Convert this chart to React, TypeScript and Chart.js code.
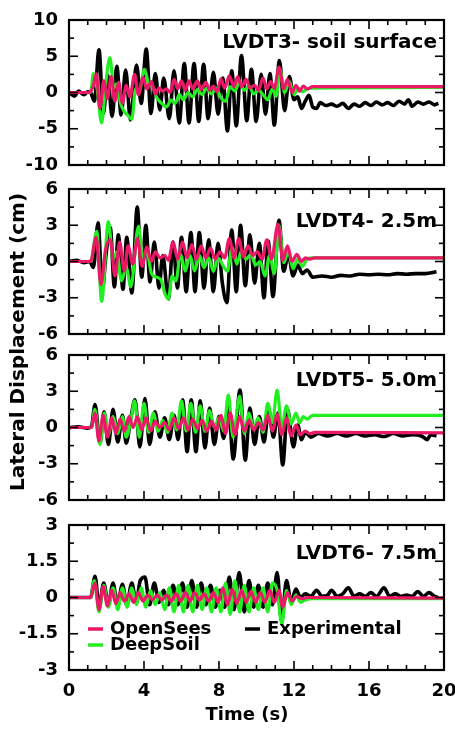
import React, { useEffect, useRef } from "react";
import { Chart, registerables } from "chart.js";

Chart.register(...registerables);

// ---------------- DATA: [time (s), lateral displacement (cm)] ----------------
// Panel 1 : LVDT3 - soil surface
const LVDT3_OPENSEES: [number, number][] = [
  [0, 0], [1.1, 0], [1.3, 1.0], [1.45, 2.6], [1.65, -2.2], [1.85, 1.6], [2.05, -0.8], [2.25, 2.2],
  [2.45, -1.2], [2.65, 1.4], [2.85, -1.5], [3.05, 1.0], [3.25, -0.6], [3.5, 2.5], [3.7, -0.3], [3.95, 2.1],
  [4.15, 0.5], [4.4, 1.5], [4.6, -0.2], [4.8, 0.6], [5.0, 0.2], [5.2, 0.5], [5.4, 0.0], [5.6, 1.8],
  [5.8, 0.5], [6.0, 1.6], [6.2, 0.3], [6.4, 1.6], [6.6, 0.5], [6.85, 1.6], [7.05, 0.4], [7.3, 1.4],
  [7.5, 0.3], [7.7, 0.9], [7.9, 0.1], [8.1, 1.9], [8.3, 0.6], [8.55, 2.3], [8.8, 0.8], [9.0, 2.2],
  [9.2, 0.8], [9.45, 1.8], [9.65, 0.6], [9.9, 1.0], [10.1, 0.3], [10.35, 2.0], [10.55, 0.5], [10.75, 1.5],
  [10.95, 0.6], [11.2, 3.5], [11.45, 0.5], [11.65, 1.8], [11.9, 0.0], [12.1, 1.0], [12.3, 0.2], [12.5, 0.9],
  [12.7, 0.5], [13.0, 0.8], [20, 0.8],
];
const LVDT3_DEEPSOIL: [number, number][] = [
  [0, 0], [1.15, 0], [1.3, 2.6], [1.5, 0.5], [1.74, -4.2], [1.95, 1.0], [2.18, 4.8], [2.4, 0.6],
  [2.55, 1.2], [2.75, -1.5], [2.95, -2.6], [3.15, -3.2], [3.35, -3.7], [3.55, 0.5], [3.75, 0.2], [4.02, 3.2],
  [4.25, 1.2], [4.45, 0.8], [4.7, -0.8], [4.95, -1.5], [5.2, -2.0], [5.45, -1.0], [5.65, -1.5], [5.9, -0.3],
  [6.1, -1.0], [6.35, 0.0], [6.6, -0.6], [6.85, 0.4], [7.1, -0.3], [7.35, 0.6], [7.6, -0.2], [7.85, 0.6],
  [8.1, -0.7], [8.35, -1.2], [8.6, 0.8], [8.85, 0.2], [9.1, 1.5], [9.35, 0.3], [9.6, 0.9], [9.85, -0.2],
  [10.1, 0.3], [10.35, -0.3], [10.6, -1.0], [10.85, 0.5], [11.05, -0.5], [11.25, 3.2], [11.5, 0.0], [11.75, 1.5],
  [12.0, -0.3], [12.25, 0.6], [12.45, 0.1], [12.7, 0.5], [13.0, 0.6], [20, 0.7],
];
const LVDT3_EXPERIMENTAL: [number, number][] = [
  [0, 0], [0.3, -0.5], [0.5, 0.2], [0.8, -0.3], [1.0, 0.1], [1.15, 0.0], [1.35, -1.2], [1.6, 5.9],
  [1.83, -2.9], [2.06, 2.4], [2.3, -3.3], [2.55, 3.6], [2.78, -3.1], [3.02, 3.1], [3.28, -3.8], [3.6, 3.8],
  [3.85, -1.5], [4.12, 6.0], [4.37, -2.9], [4.6, 2.6], [4.85, -2.4], [5.05, 2.0], [5.35, -3.6], [5.6, 3.0],
  [5.88, -4.2], [6.15, 4.0], [6.4, -4.2], [6.67, 4.0], [6.92, -4.0], [7.18, 3.9], [7.42, -3.6], [7.7, 2.8],
  [7.95, -3.0], [8.2, 2.0], [8.45, -5.3], [8.68, 3.0], [8.92, -4.6], [9.2, 5.1], [9.48, -3.9], [9.73, 3.2],
  [9.98, -4.0], [10.25, 2.5], [10.48, -3.0], [10.72, 2.6], [10.95, -4.5], [11.22, 4.4], [11.5, -2.5], [11.75, 2.2],
  [12.0, -1.0], [12.2, -0.6], [12.4, -2.2], [12.6, -1.2], [12.8, -0.4], [13.0, -2.0], [13.2, -2.2], [13.4, -1.4],
  [13.7, -1.8], [14.0, -1.6], [14.3, -1.9], [14.6, -1.5], [14.9, -2.2], [15.2, -1.6], [15.5, -1.9], [15.8, -1.4],
  [16.1, -1.8], [16.4, -1.3], [16.7, -1.7], [17.0, -1.4], [17.3, -1.8], [17.6, -1.2], [17.9, -1.6], [18.1, -1.0],
  [18.3, -1.9], [18.6, -1.3], [18.9, -1.6], [19.2, -1.3], [19.5, -1.7], [19.7, -1.5],
];

// Panel 2 : LVDT4 - 2.5 m
const LVDT4_OPENSEES: [number, number][] = [
  [0, 0], [1.15, 0], [1.45, 2.0], [1.7, -1.9], [1.95, 1.0], [2.2, 1.8], [2.45, -1.2], [2.7, 1.6],
  [2.95, -0.8], [3.15, 1.3], [3.4, -0.2], [3.65, 1.9], [3.9, -0.4], [4.15, 1.2], [4.4, 0.0], [4.6, 0.8],
  [4.85, 0.3], [5.1, 0.5], [5.3, 0.1], [5.55, 1.6], [5.8, 0.2], [6.05, 1.6], [6.3, 0.3], [6.55, 1.4],
  [6.8, 0.2], [7.05, 1.3], [7.3, 0.3], [7.55, 1.1], [7.8, 0.2], [8.05, 0.8], [8.3, 0.3], [8.55, 1.9],
  [8.8, 0.3], [9.05, 1.9], [9.3, 0.4], [9.55, 1.3], [9.8, 0.5], [10.05, 0.8], [10.3, 0.2], [10.55, 1.8],
  [10.8, 0.2], [11.15, 3.1], [11.4, 0.1], [11.65, 1.3], [11.9, 0.0], [12.15, 0.6], [12.4, 0.0], [12.6, 0.3],
  [12.85, 0.2], [13.1, 0.3], [20, 0.3],
];
const LVDT4_DEEPSOIL: [number, number][] = [
  [0, 0], [1.15, 0], [1.48, 2.5], [1.74, -3.3], [2.1, 3.3], [2.35, 0.2], [2.55, 0.8], [2.8, -1.6],
  [3.05, -0.5], [3.3, -2.1], [3.7, 2.9], [3.95, 0.3], [4.15, 0.8], [4.4, -1.0], [4.65, -1.3], [4.9, -1.5],
  [5.1, -2.6], [5.3, -3.1], [5.5, -1.2], [5.7, -1.6], [5.95, 0.6], [6.2, -0.8], [6.45, 0.5], [6.7, -0.8],
  [6.95, 0.5], [7.2, -0.5], [7.45, 0.3], [7.7, -0.8], [7.95, 0.3], [8.2, -0.3], [8.45, -0.8], [8.7, 1.2],
  [8.95, -0.2], [9.2, 0.9], [9.45, 0.2], [9.7, 0.6], [9.95, -0.3], [10.2, 0.0], [10.45, -1.2], [10.7, 0.5],
  [10.95, -1.0], [11.2, 3.0], [11.45, -0.1], [11.7, 0.8], [11.95, -0.6], [12.2, 0.2], [12.45, -0.4], [12.7, 0.2],
  [13.0, 0.3], [20, 0.3],
];
const LVDT4_EXPERIMENTAL: [number, number][] = [
  [0, 0], [0.4, 0.1], [0.8, -0.1], [1.1, 0.0], [1.3, -0.5], [1.55, 3.2], [1.78, -2.3], [1.97, 0.5],
  [2.2, 2.8], [2.42, -2.1], [2.63, 2.2], [2.88, -2.3], [3.08, 2.0], [3.35, -2.6], [3.64, 4.5], [3.88, -1.3],
  [4.1, 3.0], [4.32, -1.7], [4.55, 1.6], [4.8, -2.2], [5.0, 0.5], [5.3, -3.1], [5.55, 1.6], [5.78, -2.2],
  [6.0, 2.0], [6.25, -2.5], [6.5, 2.4], [6.72, -2.5], [6.95, 2.4], [7.2, -2.2], [7.45, 1.8], [7.7, -2.5],
  [7.95, 1.5], [8.18, -1.8], [8.42, -3.4], [8.68, 2.6], [8.92, -2.5], [9.15, 3.0], [9.4, -2.0], [9.65, 2.2],
  [9.9, -1.8], [10.15, 1.5], [10.4, -3.0], [10.62, 1.7], [10.88, -2.9], [11.2, 3.4], [11.45, -0.8], [11.7, 0.6],
  [11.95, -1.2], [12.2, -0.3], [12.45, -1.0], [12.7, -0.7], [13.0, -1.3], [13.5, -1.2], [14.0, -1.3], [14.5, -1.15],
  [15.0, -1.2], [15.5, -1.05], [16.0, -1.1], [16.5, -1.05], [17.0, -1.1], [17.5, -1.0], [18.0, -1.05], [18.5, -1.0],
  [19.0, -1.0], [19.6, -0.85],
];

// Panel 3 : LVDT5 - 5.0 m
const LVDT5_OPENSEES: [number, number][] = [
  [0, 0], [1.2, 0], [1.38, 1.2], [1.6, -1.1], [1.82, 1.0], [2.05, -0.8], [2.28, 0.8], [2.5, -0.5],
  [2.72, 0.7], [2.95, -0.3], [3.2, 0.9], [3.42, 0.0], [3.65, 0.9], [3.88, -0.2], [4.1, 0.8], [4.35, -0.3],
  [4.6, 0.5], [4.85, 0.0], [5.1, 0.4], [5.35, -0.2], [5.6, 0.8], [5.85, -0.1], [6.1, 0.8], [6.35, -0.2],
  [6.6, 0.7], [6.85, -0.1], [7.1, 0.6], [7.35, -0.3], [7.6, 0.5], [7.85, -0.2], [8.1, 1.0], [8.35, -0.5],
  [8.6, 1.2], [8.85, -0.6], [9.1, 0.9], [9.35, -0.3], [9.6, 0.6], [9.85, -0.2], [10.1, 0.4], [10.35, -0.2],
  [10.6, 1.0], [10.85, -0.3], [11.1, 1.1], [11.35, -0.6], [11.6, 0.8], [11.85, -0.7], [12.1, 0.2], [12.35, -0.6],
  [12.6, -0.3], [12.85, -0.5], [13.1, -0.4], [20, -0.45],
];
const LVDT5_DEEPSOIL: [number, number][] = [
  [0, 0], [1.2, 0], [1.38, 1.5], [1.65, -1.4], [1.88, 1.2], [2.1, -0.6], [2.35, 0.9], [2.6, -0.5],
  [2.85, 0.9], [3.05, -0.8], [3.3, 0.6], [3.5, 2.2], [3.75, -0.8], [4.0, 2.0], [4.25, -0.4], [4.5, 1.2],
  [4.75, -0.3], [5.0, 0.6], [5.25, -0.4], [5.5, 1.2], [5.75, -0.2], [6.0, 2.2], [6.25, -0.3], [6.5, 2.0],
  [6.75, -0.4], [7.0, 1.8], [7.25, -0.3], [7.5, 1.4], [7.75, 0.0], [8.0, 0.8], [8.25, -0.3], [8.5, 2.7],
  [8.75, -0.8], [9.1, 2.6], [9.35, -0.5], [9.6, 1.2], [9.85, 0.0], [10.1, 0.8], [10.35, -0.4], [10.6, 2.0],
  [10.85, 0.4], [11.1, 3.1], [11.35, 0.0], [11.6, 1.8], [11.85, 0.3], [12.1, 1.2], [12.3, 0.4], [12.5, 0.9],
  [12.7, 0.7], [13.0, 1.0], [20, 1.0],
];
const LVDT5_EXPERIMENTAL: [number, number][] = [
  [0, 0], [0.5, 0.05], [1.0, -0.05], [1.2, 0.1], [1.39, 1.9], [1.65, -1.3], [1.87, 1.3], [2.1, -1.4],
  [2.35, 1.5], [2.6, -1.2], [2.85, 1.0], [3.05, -1.3], [3.3, 0.8], [3.52, 2.3], [3.78, -1.6], [4.05, 2.4],
  [4.3, -1.4], [4.58, 1.3], [4.85, -0.8], [5.1, 0.8], [5.35, -1.0], [5.6, 1.0], [5.82, -1.0], [6.06, 2.3],
  [6.3, -2.0], [6.52, 2.3], [6.77, -2.0], [7.0, 2.2], [7.25, -1.7], [7.5, 1.6], [7.75, -1.4], [8.0, 0.9],
  [8.25, -0.9], [8.5, 1.8], [8.76, -2.6], [9.12, 3.1], [9.4, -2.7], [9.65, 1.6], [9.9, -1.4], [10.15, 0.9],
  [10.4, -1.2], [10.65, 1.5], [10.9, -0.8], [11.15, 1.2], [11.4, -3.1], [11.65, 1.5], [11.97, -1.6], [12.2, 0.2],
  [12.4, -1.0], [12.6, -0.4], [12.9, -0.8], [13.3, -0.5], [13.8, -0.7], [14.3, -0.5], [14.8, -0.7], [15.3, -0.5],
  [15.8, -0.7], [16.3, -0.6], [16.8, -0.75], [17.3, -0.5], [17.8, -0.7], [18.3, -0.6], [18.8, -0.7], [19.1, -1.0],
  [19.3, -0.6], [19.6, -0.7],
];

// Panel 4 : LVDT6 - 7.5 m
const LVDT6_OPENSEES: [number, number][] = [
  [0, 0], [1.15, 0], [1.38, 0.6], [1.6, -0.5], [1.82, 0.45], [2.05, -0.35], [2.28, 0.3], [2.5, -0.25],
  [2.72, 0.2], [2.95, -0.15], [3.2, 0.15], [3.45, -0.2], [3.7, 0.2], [3.95, -0.15], [4.2, 0.1], [4.45, -0.1],
  [4.7, 0.1], [4.95, -0.1], [5.2, 0.1], [5.45, -0.15], [5.7, 0.15], [5.95, -0.15], [6.2, 0.2], [6.45, -0.15],
  [6.7, 0.2], [6.95, -0.1], [7.2, 0.15], [7.45, -0.15], [7.7, 0.2], [7.95, -0.2], [8.2, 0.4], [8.45, -0.3],
  [8.7, 0.35], [8.95, -0.25], [9.2, 0.3], [9.45, -0.2], [9.7, 0.25], [9.95, -0.2], [10.2, 0.2], [10.45, -0.2],
  [10.7, 0.3], [10.95, -0.2], [11.2, 0.3], [11.4, -0.4], [11.65, 0.2], [11.9, -0.15], [12.15, 0.05], [12.4, -0.05],
  [12.7, 0.0], [20, -0.03],
];
const LVDT6_DEEPSOIL: [number, number][] = [
  [0, 0], [1.15, 0], [1.35, 0.7], [1.6, -0.6], [1.85, 0.5], [2.1, -0.4], [2.35, 0.4], [2.6, -0.5],
  [2.85, 0.4], [3.1, -0.4], [3.35, 0.4], [3.6, -0.3], [3.85, 0.4], [4.1, -0.4], [4.35, 0.3], [4.6, -0.3],
  [4.85, 0.2], [5.1, -0.5], [5.35, 0.4], [5.6, -0.6], [5.85, 0.5], [6.1, -0.6], [6.35, 0.5], [6.6, -0.6],
  [6.85, 0.5], [7.1, -0.5], [7.35, 0.4], [7.6, -0.6], [7.85, 0.4], [8.1, -0.6], [8.35, 0.6], [8.6, -0.7],
  [8.85, 0.7], [9.1, -0.6], [9.35, 0.5], [9.6, -0.6], [9.85, 0.4], [10.1, -0.5], [10.35, 0.4], [10.6, -0.6],
  [10.85, 0.6], [11.1, 0.3], [11.35, -1.1], [11.6, 0.3], [11.85, -0.3], [12.1, 0.1], [12.35, -0.2], [12.6, -0.1],
  [13.0, -0.05], [20, -0.05],
];
const LVDT6_EXPERIMENTAL: [number, number][] = [
  [0, 0], [1.15, 0], [1.39, 0.88], [1.6, -0.4], [1.85, 0.6], [2.1, -0.3], [2.35, 0.6], [2.58, -0.35],
  [2.85, 0.55], [3.08, -0.3], [3.35, 0.6], [3.58, -0.2], [3.8, 0.7], [4.05, 0.85], [4.3, -0.3], [4.55, 0.6],
  [4.8, -0.2], [5.05, 0.3], [5.3, -0.3], [5.55, 0.5], [5.8, -0.3], [6.05, 0.6], [6.3, -0.4], [6.55, 0.7],
  [6.8, -0.4], [7.05, 0.6], [7.3, -0.3], [7.55, 0.5], [7.8, -0.4], [8.05, 0.3], [8.3, -0.4], [8.55, 0.85],
  [8.8, -0.5], [9.08, 1.03], [9.35, -0.6], [9.6, 0.7], [9.85, -0.4], [10.1, 0.5], [10.35, -0.4], [10.6, 0.6],
  [10.85, -0.3], [11.1, 1.03], [11.34, -0.97], [11.6, 0.7], [11.85, -0.2], [12.1, 0.35], [12.35, 0.0], [12.6, 0.15],
  [12.9, 0.05], [13.2, 0.3], [13.5, 0.05], [13.8, 0.1], [14.0, 0.3], [14.3, 0.05], [14.6, 0.15], [14.9, 0.4],
  [15.2, 0.05], [15.5, 0.15], [15.8, 0.05], [16.1, 0.2], [16.4, 0.05], [16.8, 0.4], [17.1, 0.05], [17.4, 0.15],
  [17.7, 0.05], [18.0, 0.1], [18.3, 0.05], [18.6, 0.25], [18.9, 0.05], [19.2, 0.2], [19.5, 0.05], [19.7, 0.0],
];

// Labels / ticks
const PANEL_LABELS = ["LVDT3- soil surface", "LVDT4- 2.5m", "LVDT5- 5.0m", "LVDT6- 7.5m"];
const Y_LIMITS = [10, 6, 6, 3];
const Y_MAJOR_STEPS = [5, 3, 3, 1.5];
const X_MIN = 0;
const X_MAX = 20;
const X_MAJOR_STEP = 4;
const X_MINOR_STEP = 1;
const SERIES_NAMES = ["OpenSees", "DeepSoil", "Experimental"];
const X_TITLE = "Time (s)";
const Y_TITLE = "Lateral Displacement (cm)";

const PANEL_SERIES = [
  [LVDT3_OPENSEES, LVDT3_DEEPSOIL, LVDT3_EXPERIMENTAL],
  [LVDT4_OPENSEES, LVDT4_DEEPSOIL, LVDT4_EXPERIMENTAL],
  [LVDT5_OPENSEES, LVDT5_DEEPSOIL, LVDT5_EXPERIMENTAL],
  [LVDT6_OPENSEES, LVDT6_DEEPSOIL, LVDT6_EXPERIMENTAL],
];

// ---------------- STYLE / LAYOUT ----------------
const W = 455;
const H = 733;
const PLOT_LEFT = 69;
const PLOT_RIGHT = 444;
const PANEL_TOPS = [20, 189, 355, 525];
const PANEL_H = 145;
const LABEL_Y = [43, 222, 381, 554];
const LABEL_RIGHT = 437;
const X_AXIS_H = 40;
const FONT = "'DejaVu Sans', 'Liberation Sans', Arial, sans-serif";
const COLORS = ["#ea1866", "#22ee22", "#000000"];
const WIDTHS = [3.2, 3.2, 3.6];

function makeFramePlugin(panel: number) {
  return {
    id: "frame" + panel,
    afterDraw(chart: any) {
      const { ctx, chartArea: a, scales } = chart;
      const xs = scales.x;
      const ys = scales.y;
      ctx.save();
      ctx.strokeStyle = "#000";
      ctx.lineCap = "butt";
      ctx.lineWidth = 1.6;
      const line = (x1: number, y1: number, x2: number, y2: number) => {
        ctx.beginPath();
        ctx.moveTo(x1, y1);
        ctx.lineTo(x2, y2);
        ctx.stroke();
      };
      for (let v = X_MIN; v <= X_MAX + 1e-9; v += X_MINOR_STEP) {
        const px = xs.getPixelForValue(v);
        const major = Math.abs(v / X_MAJOR_STEP - Math.round(v / X_MAJOR_STEP)) < 1e-6;
        const len = major ? 9 : 5;
        line(px, a.bottom, px, a.bottom - len);
        line(px, a.top, px, a.top + len);
      }
      const lim = Y_LIMITS[panel];
      const maj = Y_MAJOR_STEPS[panel];
      const minr = maj / 2;
      for (let v = -lim; v <= lim + 1e-9; v += minr) {
        const py = ys.getPixelForValue(v);
        const major = Math.abs(v / maj - Math.round(v / maj)) < 1e-6;
        const len = major ? 9 : 5;
        line(a.left, py, a.left + len, py);
        line(a.right, py, a.right - len, py);
      }
      ctx.lineWidth = 2.2;
      ctx.strokeRect(a.left, a.top, a.right - a.left, a.bottom - a.top);

      ctx.fillStyle = "#000";
      ctx.font = "bold 20px " + FONT;
      ctx.textAlign = "right";
      ctx.textBaseline = "middle";
      ctx.fillText(PANEL_LABELS[panel], LABEL_RIGHT, LABEL_Y[panel]);

      if (panel === 3) {
        const ds = chart.data.datasets;
        const entries = [
          { i: 0, x: 88, y: 629 },
          { i: 2, x: 245, y: 629 },
          { i: 1, x: 88, y: 645 },
        ];
        ctx.font = "bold 18px " + FONT;
        ctx.textAlign = "left";
        for (const e of entries) {
          ctx.strokeStyle = ds[e.i].borderColor;
          ctx.lineWidth = 3.5;
          line(e.x, e.y, e.x + 15, e.y);
          ctx.fillStyle = "#000";
          ctx.fillText(ds[e.i].label, e.x + 22, e.y);
        }
        ctx.font = "bold 18px " + FONT;
        ctx.textAlign = "center";
        ctx.textBaseline = "middle";
        ctx.fillText(X_TITLE, 247, 715);
        ctx.save();
        ctx.translate(19, 342);
        ctx.rotate(-Math.PI / 2);
        ctx.font = "bold 20px " + FONT;
        ctx.fillText(Y_TITLE, 0, 0);
        ctx.restore();
      }
      ctx.restore();
    },
  };
}

function zeroPad(s: any) {
  s.paddingLeft = 0;
  s.paddingRight = 0;
  s.paddingTop = 0;
  s.paddingBottom = 0;
}

function buildConfig(panel: number): any {
  const last = panel === 3;
  const top = PANEL_TOPS[panel];
  const bottom = top + PANEL_H;
  const xh = last ? X_AXIS_H : 0;
  const lim = Y_LIMITS[panel];
  return {
    type: "line",
    data: {
      datasets: PANEL_SERIES[panel].map((s, i) => ({
        label: SERIES_NAMES[i],
        data: s.map(([x, y]) => ({ x, y })),
        borderColor: COLORS[i],
        backgroundColor: COLORS[i],
        borderWidth: WIDTHS[i],
        pointRadius: 0,
        fill: false,
        cubicInterpolationMode: "monotone",
        borderJoinStyle: "round",
      })),
    },
    options: {
      animation: false,
      responsive: false,
      events: [],
      layout: {
        padding: { top, bottom: H - bottom - xh, left: 0, right: W - PLOT_RIGHT },
      },
      plugins: { legend: { display: false }, tooltip: { enabled: false }, title: { display: false } },
      scales: {
        x: {
          type: "linear",
          min: X_MIN,
          max: X_MAX,
          grid: { display: false, drawTicks: false },
          border: { display: false },
          ticks: {
            display: last,
            stepSize: X_MAJOR_STEP,
            autoSkip: false,
            maxRotation: 0,
            padding: 11,
            color: "#000",
            font: { family: FONT, size: 18, weight: "bold" },
          },
          afterFit: (s: any) => {
            s.height = xh;
            zeroPad(s);
          },
        },
        y: {
          type: "linear",
          min: -lim,
          max: lim,
          grid: { display: false, drawTicks: false },
          border: { display: false },
          ticks: {
            stepSize: Y_MAJOR_STEPS[panel],
            autoSkip: false,
            padding: 11,
            color: "#000",
            font: { family: FONT, size: 18, weight: "bold" },
          },
          afterFit: (s: any) => {
            s.width = PLOT_LEFT;
            zeroPad(s);
          },
        },
      },
    },
    plugins: [makeFramePlugin(panel)],
  };
}

export default function App() {
  const refs = [useRef<HTMLCanvasElement>(null), useRef<HTMLCanvasElement>(null), useRef<HTMLCanvasElement>(null), useRef<HTMLCanvasElement>(null)];
  useEffect(() => {
    const charts = refs.map((r, i) => new Chart(r.current as HTMLCanvasElement, buildConfig(i)));
    return () => charts.forEach((c) => c.destroy());
  }, []);
  return (
    <div style={{ position: "fixed", left: 0, top: 0, width: W, height: H, background: "#fff" }}>
      {refs.map((r, i) => (
        <canvas
          key={i}
          ref={r}
          width={W}
          height={H}
          style={{ position: "absolute", left: 0, top: 0, width: W, height: H }}
        />
      ))}
    </div>
  );
}
